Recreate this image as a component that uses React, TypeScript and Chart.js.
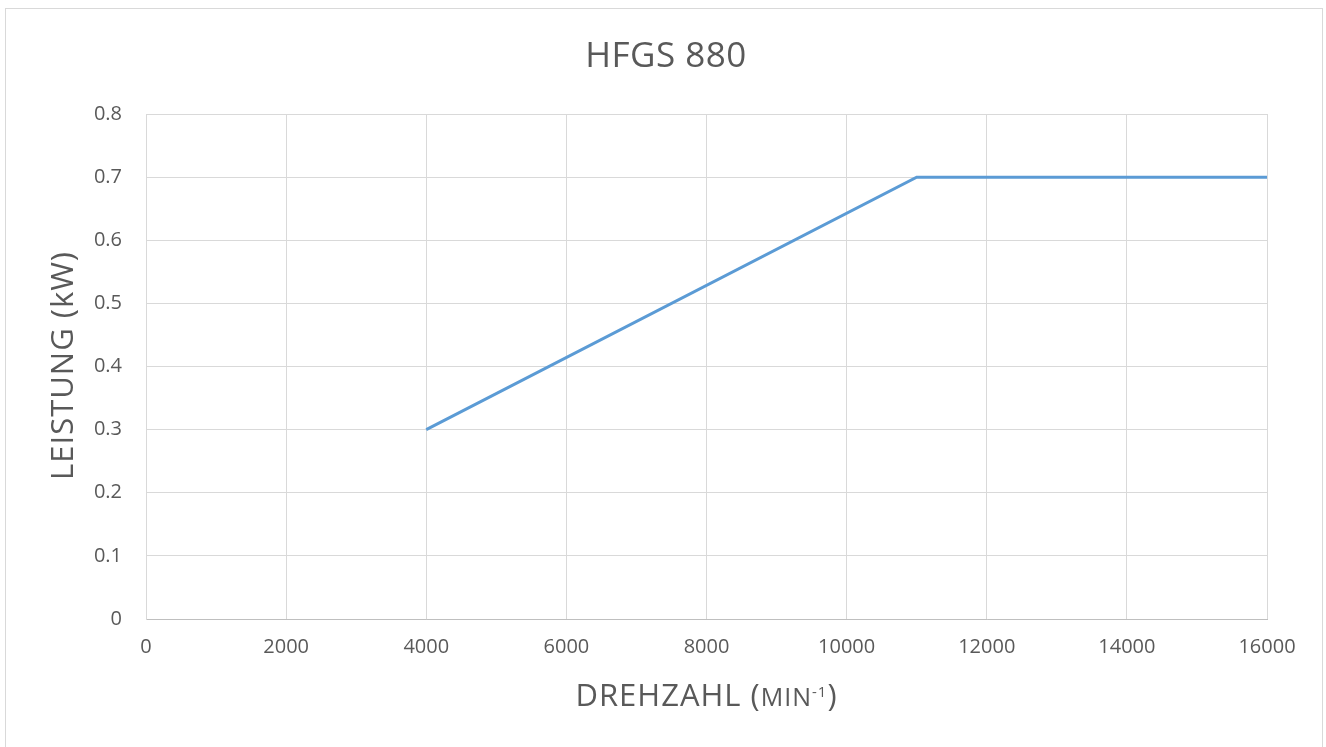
import React, { useEffect, useRef } from "react";
import { Chart, registerables } from "chart.js";

Chart.register(...registerables);

const TITLE = "HFGS 880";
const Y_TITLE = "LEISTUNG (kW)";
const X_TITLE_MAIN = "DREHZAHL (";
const X_TITLE_SMALLCAPS = "MIN";
const X_TITLE_SUP = "-1";
const X_TITLE_END = ")";

const speedRpm = [4000, 11000, 16000];
const powerKw = [0.3, 0.7, 0.7];

const X_MIN = 0;
const X_MAX = 16000;
const X_STEP = 2000;
const Y_MIN = 0;
const Y_MAX = 0.8;
const Y_STEP = 0.1;

const FONT = "'Open Sans', 'DejaVu Sans', sans-serif";
const TEXT = "#595959";

const textPlugin = {
  id: "customText",
  beforeDraw(chart: any) {
    const ctx = chart.ctx;
    ctx.save();
    ctx.fillStyle = "#ffffff";
    ctx.fillRect(0, 0, chart.width, chart.height);
    ctx.strokeStyle = "#d9d9d9";
    ctx.lineWidth = 1;
    ctx.strokeRect(5.5, 8.5, 1317, 760);
    ctx.restore();
  },
  afterDraw(chart: any) {
    const ctx = chart.ctx;
    const area = chart.chartArea;
    ctx.save();
    ctx.fillStyle = TEXT;
    // title
    ctx.font = `35px ${FONT}`;
    ctx.textAlign = "center";
    ctx.textBaseline = "alphabetic";
    (ctx as any).letterSpacing = "0.5px";
    ctx.fillText(TITLE, 666, 67);

    // y title
    ctx.save();
    ctx.translate(73, (area.top + area.bottom) / 2 - 1);
    ctx.rotate(-Math.PI / 2);
    ctx.font = `31px ${FONT}`;
    (ctx as any).letterSpacing = "1px";
    ctx.textAlign = "center";
    ctx.textBaseline = "alphabetic";
    ctx.fillText(Y_TITLE, 0, 0);
    ctx.restore();

    // x title with small caps and superscript
    const base = 706;
    const mainFont = `31px ${FONT}`;
    const scFont = `25px ${FONT}`;
    const supFont = `15px ${FONT}`;
    (ctx as any).letterSpacing = "1px";
    ctx.textAlign = "left";
    ctx.font = mainFont;
    const w1 = ctx.measureText(X_TITLE_MAIN).width;
    const w4 = ctx.measureText(X_TITLE_END).width;
    ctx.font = scFont;
    const w2 = ctx.measureText(X_TITLE_SMALLCAPS).width;
    ctx.font = supFont;
    const w3 = ctx.measureText(X_TITLE_SUP).width;
    const total = w1 + w2 + w3 + w4;
    let x = (area.left + area.right) / 2 - total / 2;
    ctx.font = mainFont;
    ctx.fillText(X_TITLE_MAIN, x, base);
    x += w1;
    ctx.font = scFont;
    ctx.fillText(X_TITLE_SMALLCAPS, x, base);
    x += w2;
    ctx.font = supFont;
    ctx.fillText(X_TITLE_SUP, x, base - 9);
    x += w3;
    ctx.font = mainFont;
    ctx.fillText(X_TITLE_END, x, base);
    ctx.restore();
  },
};

export default function App() {
  const ref = useRef<HTMLCanvasElement | null>(null);
  useEffect(() => {
    if (!ref.current) return;
    const chart = new Chart(ref.current, {
      type: "line",
      data: {
        datasets: [
          {
            label: "Leistung",
            data: speedRpm.map((s, i) => ({ x: s, y: powerKw[i] })),
            borderColor: "#5b9bd5",
            backgroundColor: "#5b9bd5",
            borderWidth: 3,
            pointRadius: 0,
            tension: 0,
            fill: false,
          },
        ],
      },
      options: {
        responsive: false,
        animation: false,
        devicePixelRatio: 1,
        layout: { padding: { left: 0, top: 114, right: 59, bottom: 0 } },
        plugins: {
          legend: { display: false },
          title: { display: false },
          tooltip: { enabled: false },
        },
        scales: {
          x: {
            type: "linear",
            min: X_MIN,
            max: X_MAX,
            ticks: {
              stepSize: X_STEP,
              padding: 16,
              color: TEXT,
              font: { family: FONT, size: 20 },
              maxRotation: 0,
              callback: (v: any) => String(v),
            },
            grid: { color: "#d9d9d9", lineWidth: 1, drawTicks: false },
            border: { color: "#bfbfbf", width: 1 },
            afterFit: (scale: any) => {
              scale.height = 128;
            },
          },
          y: {
            type: "linear",
            min: Y_MIN,
            max: Y_MAX,
            ticks: {
              stepSize: Y_STEP,
              padding: 24,
              color: TEXT,
              font: { family: FONT, size: 20 },
              callback: (v: any) => String(Math.round(v * 10) / 10),
            },
            grid: { color: "#d9d9d9", lineWidth: 1, drawTicks: false },
            border: { color: "#d9d9d9", width: 1 },
            afterFit: (scale: any) => {
              scale.width = 146;
            },
          },
        },
      },
      plugins: [textPlugin],
    });
    return () => chart.destroy();
  }, []);
  return (
    <canvas
      ref={ref}
      width={1326}
      height={747}
      style={{ position: "fixed", left: 0, top: 0, width: 1326, height: 747 }}
    />
  );
}
